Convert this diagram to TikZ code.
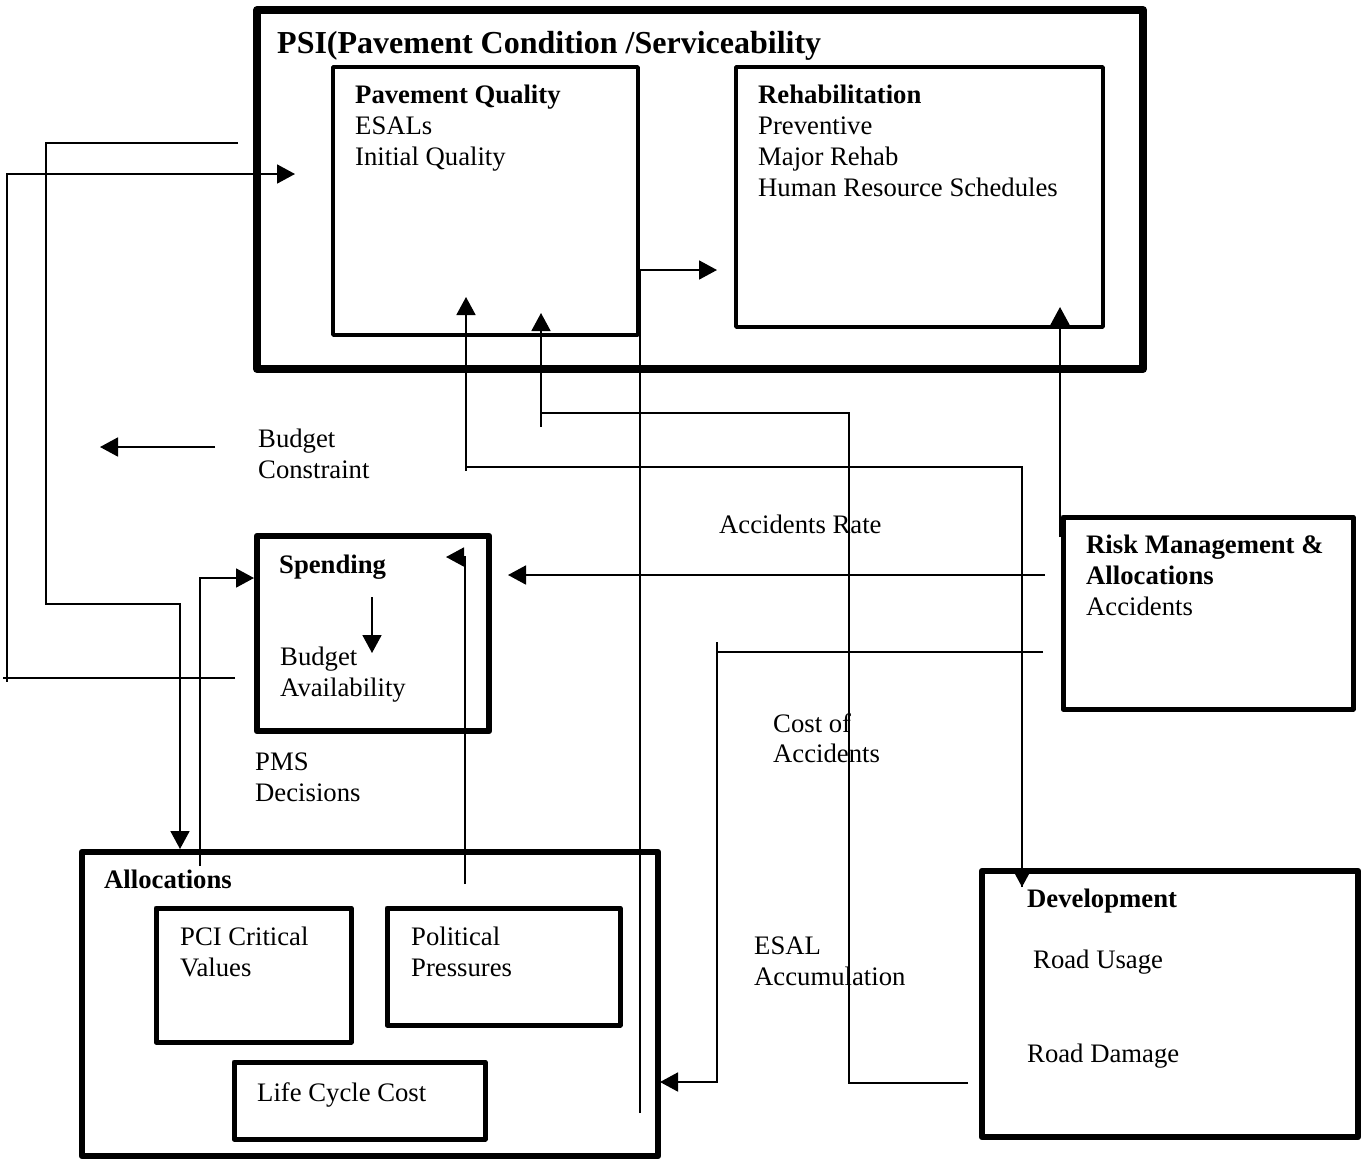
\documentclass[tikz,border=0pt]{standalone}
\usepackage{fontspec}
\setmainfont{Liberation Serif}
\usetikzlibrary{arrows.meta}
\tikzset{
  box/.style={draw, inner sep=0pt, line join=round},
  conn/.style={line width=1.8pt},
  tip/.style={-{Triangle[length=18pt,width=19pt]}},
  txt/.style={anchor=north west, inner sep=0pt, align=left, font=\fontsize{26.7}{30.8}\selectfont},
  btxt/.style={txt, font=\fontsize{26.7}{30.8}\selectfont\bfseries},
}
\begin{document}
\begin{tikzpicture}[x=1pt,y=-1pt]
\useasboundingbox (0,0) rectangle (1364,1160);
% boxes
\node[box, line width=8pt, minimum width=886pt, minimum height=359pt] (psi) at (700,189.5) {};
\node[box, line width=3.5pt, minimum width=305pt, minimum height=268pt] (pq) at (485.5,201) {};
\node[box, line width=3.5pt, minimum width=367pt, minimum height=260pt] (rehab) at (919.5,197) {};
\node[box, line width=6.5pt, minimum width=232pt, minimum height=195pt] (spend) at (373,633.5) {};
\node[box, line width=5pt, minimum width=290pt, minimum height=192pt] (risk) at (1208,613) {};
\node[box, line width=6.5pt, minimum width=576pt, minimum height=304pt] (alloc) at (370,1004) {};
\node[box, line width=5pt, minimum width=195pt, minimum height=134pt] (pci) at (253.5,975) {};
\node[box, line width=5pt, minimum width=233pt, minimum height=117pt] (pol) at (503.5,966.5) {};
\node[box, line width=5pt, minimum width=251pt, minimum height=77pt] (lcc) at (359.5,1100.5) {};
\node[box, line width=6.5pt, minimum width=376pt, minimum height=266pt] (dev) at (1170,1004) {};
% texts
\node[btxt, font=\fontsize{32}{36}\selectfont\bfseries] (tpsi) at (277,31) {PSI(Pavement Condition /Serviceability};
\node[txt] (tpq) at (355,85) {\textbf{Pavement Quality}\\ESALs\\Initial Quality};
\node[txt] (trehab) at (758,85) {\textbf{Rehabilitation}\\Preventive\\Major Rehab\\Human Resource Schedules};
\node[txt] (tbc) at (258,429) {Budget\\Constraint};
\node[btxt] (tspend) at (279,555) {Spending};
\node[txt] (tba) at (280,647) {Budget\\Availability};
\node[txt] (tar) at (719,515) {Accidents Rate};
\node[txt] (trisk) at (1086,535) {\textbf{Risk Management \&}\\\textbf{Allocations}\\Accidents};
\node[txt] (tcost) at (773,713) {Cost of\\Accidents};
\node[txt] (tpms) at (255,753) {PMS\\Decisions};
\node[btxt] (talloc) at (104,870) {Allocations};
\node[txt] (tpci) at (180,927) {PCI Critical\\Values};
\node[txt] (tpol) at (411,927) {Political\\Pressures};
\node[txt] (tlcc) at (257,1082) {Life Cycle Cost};
\node[txt] (tesal) at (754,937) {ESAL\\Accumulation};
\node[btxt] (tdev) at (1027,889) {Development};
\node[txt] (tru) at (1033,950) {Road Usage};
\node[txt] (trd) at (1027,1044) {Road Damage};
% free-end coordinates
\coordinate (a1) at (238,143);
\coordinate (a1t) at (180,849);
\coordinate (a2) at (235,678);
\coordinate (a2t) at (295,174);
\coordinate (a3) at (200,866);
\coordinate (a3t) at (254,578);
\coordinate (a4) at (372,597);
\coordinate (a4t) at (372,653);
\coordinate (a5) at (465,884);
\coordinate (a5t) at (446,557);
\coordinate (a6) at (1045,575);
\coordinate (a6t) at (508,575);
\coordinate (a7) at (1043,652);
\coordinate (a7t) at (660,1082);
\coordinate (a8t) at (466,297);
\coordinate (a8u) at (1022,887);
\coordinate (a9) at (968,1083);
\coordinate (a9t) at (541,313);
\coordinate (a10) at (640,1113);
\coordinate (a10t) at (717,270);
\coordinate (a11) at (1060,537);
\coordinate (a11t) at (1060,307);
\coordinate (a12) at (215,447);
\coordinate (a12t) at (100,447);
% connectors
\draw[conn, tip] (a1) -- (46,143) -- (46,604) -- (180,604) -- (a1t);
\draw[conn, tip] (a2) -- (7,678) -- (7,174) -- (a2t);
\draw[conn] (3,678) -- (7,678) -- (7,682);
\draw[conn, tip] (a3) -- (200,578) -- (a3t);
\draw[conn, tip] (a4) -- (a4t);
\draw[conn, tip] (a5) -- (465,557) -- (a5t);
\draw[conn, tip] (a6) -- (a6t);
\draw[conn, tip] (a7) -- (717,652) -- (717,1082) -- (a7t);
\draw[conn] (717,642) -- (717,652);
\draw[conn, tip] (a8u) -- (1022,467) -- (466,467) -- (a8t);
\draw[conn, tip] (1022,467) -- (a8u);
\draw[conn] (466,467) -- (466,471);
\draw[conn, tip] (a9) -- (849,1083) -- (849,413) -- (541,413) -- (a9t);
\draw[conn] (541,413) -- (541,427);
\draw[conn, tip] (a10) -- (640,270) -- (a10t);
\draw[conn, tip] (a11) -- (a11t);
\draw[conn, tip] (a12) -- (a12t);
\end{tikzpicture}
\end{document}
